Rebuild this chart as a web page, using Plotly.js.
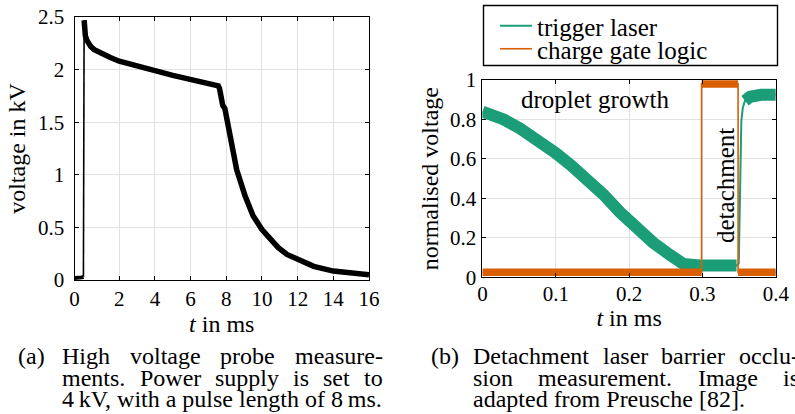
<!DOCTYPE html>
<html><head><meta charset="utf-8">
<script src="https://cdn.plot.ly/plotly-3.0.1.min.js"></script>
<style>
html,body{margin:0;padding:0;background:#fff}
#chart{width:795px;height:414px}
#chart svg text{font-family:"Liberation Serif","Times New Roman",Times,serif !important;}
</style>
</head><body><div id="chart"></div>
<script>
// ---------- (a) high voltage probe ----------
const hvBaseT = [-0.51, -0.3, -0.1, -0.01];
const hvBaseV = [0.02, 0.02, 0.025, 0.03];
const hvRiseT = [-0.01, 0.0, 0.03];
const hvRiseV = [0.03, 1.2, 2.47];
const hvDecayT = [0.03, 0.06, 0.1, 0.18, 0.26, 0.4, 0.6, 0.8, 1.1, 1.5, 2.0, 2.5, 3.0, 4.0, 5.0, 6.0, 6.5, 7.0, 7.55, 7.62, 7.72, 7.8, 7.92, 7.98, 8.05, 8.3, 8.58, 9.05, 9.5, 10.0, 10.45, 10.9, 11.4, 12.0, 12.9, 14.0, 15.0, 16.0];
const hvDecayV = [2.47, 2.38, 2.32, 2.28, 2.25, 2.22, 2.19, 2.17, 2.145, 2.115, 2.08, 2.055, 2.03, 1.99, 1.945, 1.905, 1.885, 1.868, 1.845, 1.82, 1.72, 1.66, 1.63, 1.58, 1.48, 1.26, 1.05, 0.80, 0.61, 0.48, 0.385, 0.31, 0.243, 0.195, 0.13, 0.085, 0.062, 0.05];
const hvTickVals = [-0.51, 2, 4, 6, 8, 10, 12, 14, 16];
const hvTickText = ['0', '2', '4', '6', '8', '10', '12', '14', '16'];
const hvYTickVals = [0, 0.5, 1, 1.5, 2, 2.5];
const hvYTickText = ['0', '0.5', '1', '1.5', '2', '2.5'];

// ---------- (b) laser barrier ----------
const trigT = [0, 0.015, 0.029, 0.051, 0.074, 0.1, 0.12, 0.142, 0.165, 0.1875, 0.2, 0.21, 0.233, 0.256, 0.274, 0.296, 0.32, 0.3465, 0.3495, 0.351, 0.353, 0.355, 0.358, 0.365, 0.38, 0.4];
const trigV = [0.84, 0.82, 0.80, 0.755, 0.70, 0.63, 0.57, 0.50, 0.42, 0.33, 0.285, 0.25, 0.175, 0.113, 0.068, 0.06, 0.06, 0.06, 0.07, 0.45, 0.79, 0.86, 0.895, 0.915, 0.925, 0.925];
const gateT = [0, 0.2988, 0.2988, 0.3486, 0.3486, 0.4];
const gateV = [0.025, 0.025, 0.98, 0.98, 0.025, 0.025];
const seriesNames = ['trigger laser', 'charge gate logic'];

const captionA = ['(a)', 'High voltage probe measure-', 'ments. Power supply is set to', '4\u2009kV, with a pulse length of 8\u2009ms.'];
const captionB = ['(b)', 'Detachment laser barrier occlu-', 'sion measurement. Image is', 'adapted from Preusche [82].'];

const W = 795, H = 414;
const FONT = '"Liberation Serif", "Times New Roman", Times, serif';
const GREEN = '#1b9e77', ORANGE = '#d95f02';
const X = p => p / W, Y = p => 1 - p / H;

// thick "noise band" versions: break the steep transitions
const trigBandV = trigT.map((t, i) => (t > 0.3465 && t < 0.358) ? null : trigV[i]);
const gateBandT = [], gateBandV = [];
gateT.forEach((t, i) => {
  if (i > 0 && t === gateT[i - 1]) { gateBandT.push(null); gateBandV.push(null); }
  gateBandT.push(t); gateBandV.push(gateV[i]);
});

const traces = [
  {x: hvBaseT, y: hvBaseV, mode: 'lines', line: {color: '#000', width: 4}, showlegend: false, xaxis: 'x', yaxis: 'y', hoverinfo: 'skip'},
  {x: hvRiseT, y: hvRiseV, mode: 'lines', line: {color: '#000', width: 1.6}, showlegend: false, xaxis: 'x', yaxis: 'y', hoverinfo: 'skip'},
  {x: hvDecayT, y: hvDecayV, mode: 'lines', line: {color: '#000', width: 5.5}, showlegend: false, xaxis: 'x', yaxis: 'y'},
  {x: trigT, y: trigBandV, mode: 'lines', line: {color: GREEN, width: 12}, showlegend: false, xaxis: 'x2', yaxis: 'y2', hoverinfo: 'skip'},
  {x: trigT, y: trigV, mode: 'lines', name: seriesNames[0], line: {color: GREEN, width: 2}, legend: 'legend', xaxis: 'x2', yaxis: 'y2'},
  {x: gateBandT, y: gateBandV, mode: 'lines', line: {color: ORANGE, width: 7.5}, showlegend: false, xaxis: 'x2', yaxis: 'y2', hoverinfo: 'skip', connectgaps: false},
  {x: gateT, y: gateV, mode: 'lines', name: seriesNames[1], line: {color: ORANGE, width: 1.6}, legend: 'legend2', xaxis: 'x2', yaxis: 'y2'}
];

const axisBase = {
  showline: true, linecolor: '#000', linewidth: 1, mirror: 'ticks',
  ticks: 'inside', ticklen: 4, tickcolor: '#000', tickwidth: 1,
  showgrid: true, gridcolor: '#e2e2e2', gridwidth: 1, zeroline: false,
  tickfont: {family: FONT, size: 21, color: '#000'}, automargin: false, fixedrange: true
};
const titleFont = {family: FONT, size: 24, color: '#000'};
const textFont = {family: FONT, size: 25, color: '#000'};

// caption annotations (justified with canvas measurement)
const ctx = document.createElement('canvas').getContext('2d');
const CAP_SIZE = 24;
ctx.font = CAP_SIZE + 'px "Liberation Serif"';
function capAnn(text, xpx, ypx) {
  return {text: text, x: X(xpx), y: Y(ypx), xref: 'paper', yref: 'paper', xanchor: 'left', yanchor: 'middle',
    showarrow: false, font: {family: FONT, size: CAP_SIZE, color: '#000'}, borderpad: 0};
}
function justified(text, x0, x1, ypx) {
  const words = text.split(' ');
  const ws = words.map(w => ctx.measureText(w).width);
  const total = ws.reduce((a, b) => a + b, 0);
  const gap = (x1 - x0 - total) / (words.length - 1);
  const out = []; let x = x0;
  words.forEach((w, i) => { out.push(capAnn(w, x, ypx)); x += ws[i] + gap; });
  return out;
}
const capY = [356, 377.5, 399];
function caption(c, lx, tx, rx) {
  return [capAnn(c[0], lx, capY[0])]
    .concat(justified(c[1], tx, rx, capY[0]))
    .concat(justified(c[2], tx, rx, capY[1]))
    .concat([capAnn(c[3], tx, capY[2])]);
}

const annotations = [
  {text: 'droplet growth', x: X(595), y: Y(100), xref: 'paper', yref: 'paper', xanchor: 'center', yanchor: 'middle', showarrow: false, font: textFont},
  {text: 'detachment', x: X(725), y: Y(186), xref: 'paper', yref: 'paper', xanchor: 'center', yanchor: 'middle', showarrow: false, textangle: -90, font: textFont}
].concat(caption(captionA, 17, 61, 382)).concat(caption(captionB, 430, 472, 798));

const layout = {
  width: W, height: H, margin: {l: 0, r: 0, t: 0, b: 0},
  paper_bgcolor: '#fff', plot_bgcolor: '#fff',
  font: {family: FONT, color: '#000'},
  xaxis: Object.assign({}, axisBase, {domain: [X(74.5), X(369)], range: [-0.51, 16], tickmode: 'array', tickvals: hvTickVals, ticktext: hvTickText,
    anchor: 'y', ticklabelstandoff: 0, title: {text: '<i>t</i> in ms', font: titleFont, standoff: 0}}),
  yaxis: Object.assign({}, axisBase, {domain: [Y(280), Y(17)], range: [0, 2.5], tickmode: 'array', tickvals: hvYTickVals, ticktext: hvYTickText,
    anchor: 'x', ticklabelstandoff: 5, title: {text: 'voltage in kV', font: titleFont, standoff: 5}}),
  xaxis2: Object.assign({}, axisBase, {domain: [X(482.4), X(775.8)], range: [0, 0.4], dtick: 0.1, tick0: 0,
    anchor: 'y2', ticklabelstandoff: -3, title: {text: '<i>t</i> in ms', font: titleFont, standoff: 0}}),
  yaxis2: Object.assign({}, axisBase, {domain: [Y(277.3), Y(80)], range: [0, 1], dtick: 0.2, tick0: 0,
    anchor: 'x2', ticklabelstandoff: 1, title: {text: 'normalised voltage', font: titleFont, standoff: 4}}),
  showlegend: true,
  legend: {x: X(495), y: Y(3), xanchor: 'left', yanchor: 'top', bgcolor: 'rgba(0,0,0,0)', borderwidth: 0,
    font: textFont, itemwidth: 32},
  legend2: {x: X(495), y: Y(26), xanchor: 'left', yanchor: 'top', bgcolor: 'rgba(0,0,0,0)', borderwidth: 0,
    font: textFont, itemwidth: 32},
  shapes: [{type: 'rect', xref: 'paper', yref: 'paper', layer: 'above', x0: X(483.5), x1: X(777.5), y0: Y(65.5), y1: Y(5.5),
    line: {color: 'rgb(0,0,0)', width: 1.4}, fillcolor: 'rgba(0,0,0,0)', opacity: 1}],
  annotations: annotations
};

Plotly.newPlot('chart', traces, layout, {displayModeBar: false, staticPlot: true});
</script></body></html>
